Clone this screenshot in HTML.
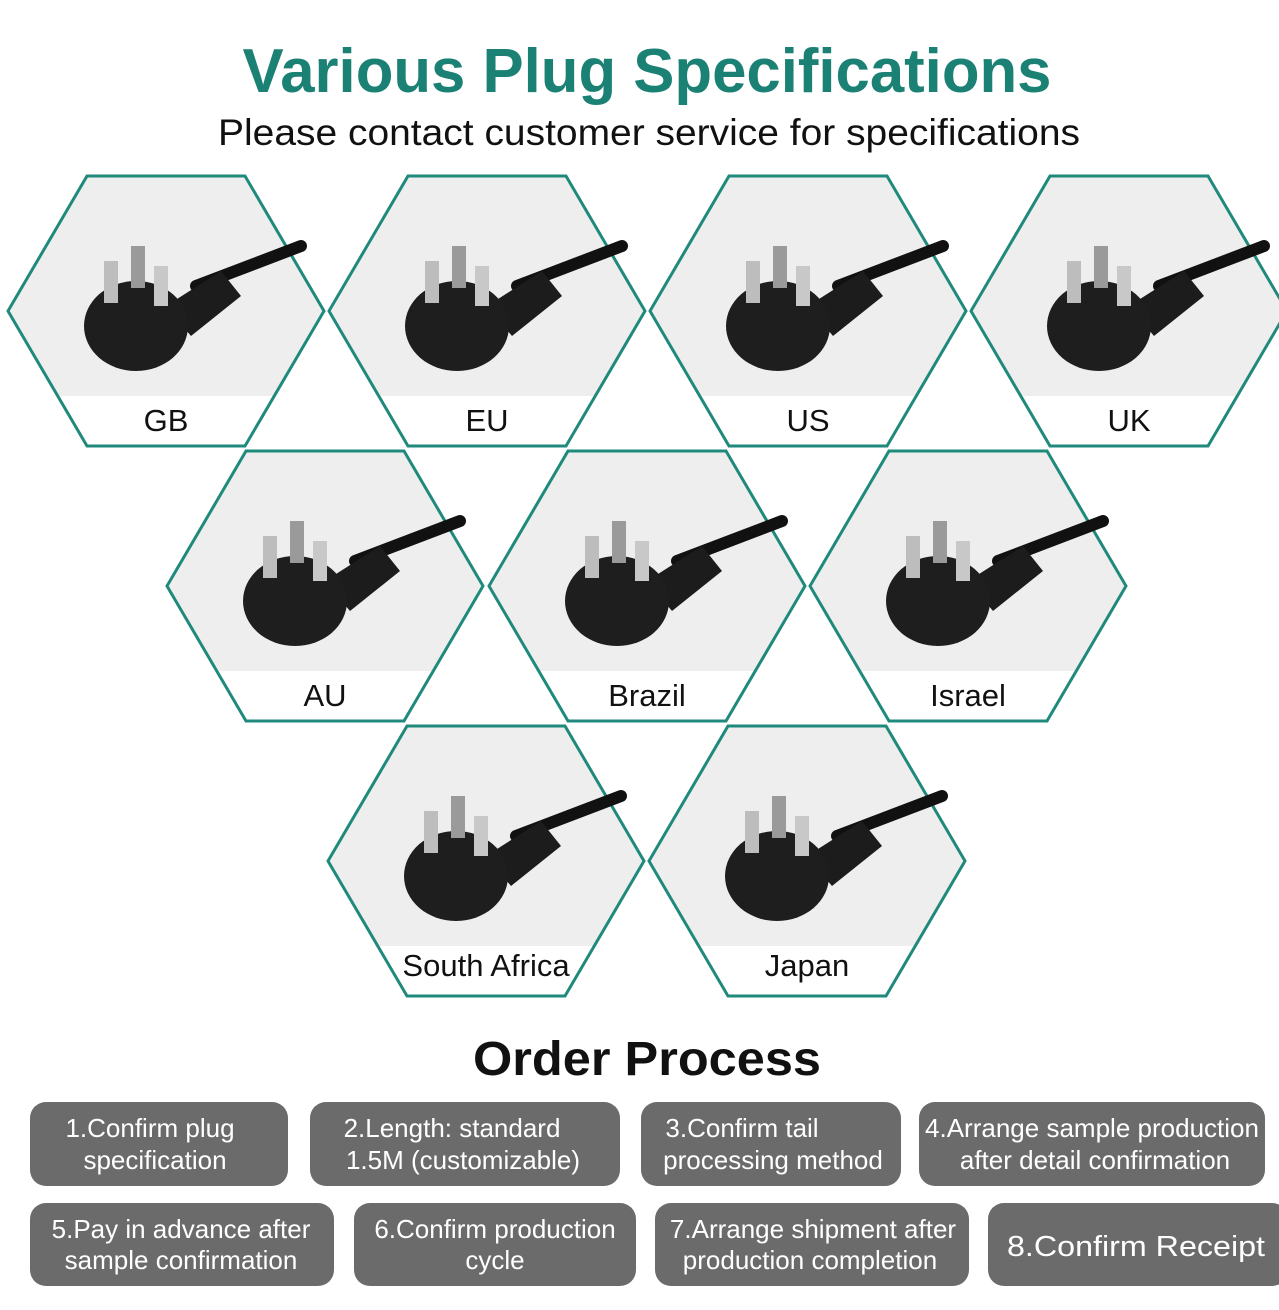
<!DOCTYPE html>
<html><head><meta charset="utf-8"><style>
html,body{margin:0;padding:0;background:#fff;}
svg{display:block;font-family:"Liberation Sans",sans-serif;}
</style></head><body>
<svg width="1279" height="1310" viewBox="0 0 1279 1310" xmlns="http://www.w3.org/2000/svg">
<defs>
<path id="hx" d="M-158 0 L-79 -135 L79 -135 L158 0 L79 135 L-79 135 Z"/>
<clipPath id="cp"><use href="#hx"/></clipPath>
<g id="plug">
  <path d="M30 -25 L135 -65" stroke="#111" stroke-width="12" stroke-linecap="round"/>
  <path d="M0 -5 L55 -40 L75 -15 L25 25 Z" fill="#1c1c1c"/>
  <ellipse cx="-30" cy="15" rx="52" ry="45" fill="#1e1e1e"/>
  <rect x="-62" y="-50" width="14" height="42" fill="#bdbdbd"/>
  <rect x="-35" y="-65" width="14" height="42" fill="#9a9a9a"/>
  <rect x="-12" y="-45" width="14" height="40" fill="#c8c8c8"/>
</g>
<g id="cell">
  <g clip-path="url(#cp)">
    <rect x="-160" y="-140" width="320" height="225" fill="#eeeeee"/>
    <rect x="-160" y="85" width="320" height="55" fill="#fff"/>
  </g>
  <use href="#hx" fill="none" stroke="#1f8a7c" stroke-width="3"/>
</g>
</defs>

<text x="647" y="92" text-anchor="middle" font-size="62" font-weight="bold" fill="#1b8174" textLength="809" lengthAdjust="spacingAndGlyphs">Various Plug Specifications</text>
<text x="649" y="145" text-anchor="middle" font-size="37" fill="#111" textLength="862" lengthAdjust="spacingAndGlyphs">Please contact customer service for specifications</text>

<g font-size="31" fill="#111" text-anchor="middle">
<g transform="translate(166,311)"><use href="#cell"/><use href="#plug"/><text y="120">GB</text></g>
<g transform="translate(487,311)"><use href="#cell"/><use href="#plug"/><text y="120">EU</text></g>
<g transform="translate(808,311)"><use href="#cell"/><use href="#plug"/><text y="120">US</text></g>
<g transform="translate(1129,311)"><use href="#cell"/><use href="#plug"/><text y="120">UK</text></g>
<g transform="translate(325,586)"><use href="#cell"/><use href="#plug"/><text y="120">AU</text></g>
<g transform="translate(647,586)"><use href="#cell"/><use href="#plug"/><text y="120">Brazil</text></g>
<g transform="translate(968,586)"><use href="#cell"/><use href="#plug"/><text y="120">Israel</text></g>
<g transform="translate(486,861)"><use href="#cell"/><use href="#plug"/><text y="115">South Africa</text></g>
<g transform="translate(807,861)"><use href="#cell"/><use href="#plug"/><text y="115">Japan</text></g>
</g>

<text x="647" y="1075" text-anchor="middle" font-size="48" font-weight="bold" fill="#111" textLength="348" lengthAdjust="spacingAndGlyphs">Order Process</text>

<g fill="#6b6b6b">
<rect x="30" y="1102" width="258" height="84" rx="16"/>
<rect x="310" y="1102" width="310" height="84" rx="16"/>
<rect x="641" y="1102" width="260" height="84" rx="16"/>
<rect x="919" y="1102" width="346" height="84" rx="16"/>
<rect x="30" y="1203" width="304" height="83" rx="16"/>
<rect x="354" y="1203" width="282" height="83" rx="16"/>
<rect x="655" y="1203" width="314" height="83" rx="16"/>
<rect x="988" y="1203" width="300" height="83" rx="16"/>
</g>
<g fill="#fff" font-size="26" text-anchor="middle">
<text x="150" y="1137">1.Confirm plug</text><text x="155" y="1169">specification</text>
<text x="452" y="1137">2.Length: standard</text><text x="463" y="1169">1.5M (customizable)</text>
<text x="742" y="1137">3.Confirm tail</text><text x="773" y="1169">processing method</text>
<text x="1092" y="1137" textLength="334" lengthAdjust="spacingAndGlyphs">4.Arrange sample production</text><text x="1095" y="1169">after detail confirmation</text>
<text x="181" y="1238">5.Pay in advance after</text><text x="181" y="1269">sample confirmation</text>
<text x="495" y="1238">6.Confirm production</text><text x="495" y="1269">cycle</text>
<text x="813" y="1238">7.Arrange shipment after</text><text x="810" y="1269">production completion</text>
<text x="1136" y="1256" font-size="29" textLength="258" lengthAdjust="spacingAndGlyphs">8.Confirm  Receipt</text>
</g>
</svg>
</body></html>
